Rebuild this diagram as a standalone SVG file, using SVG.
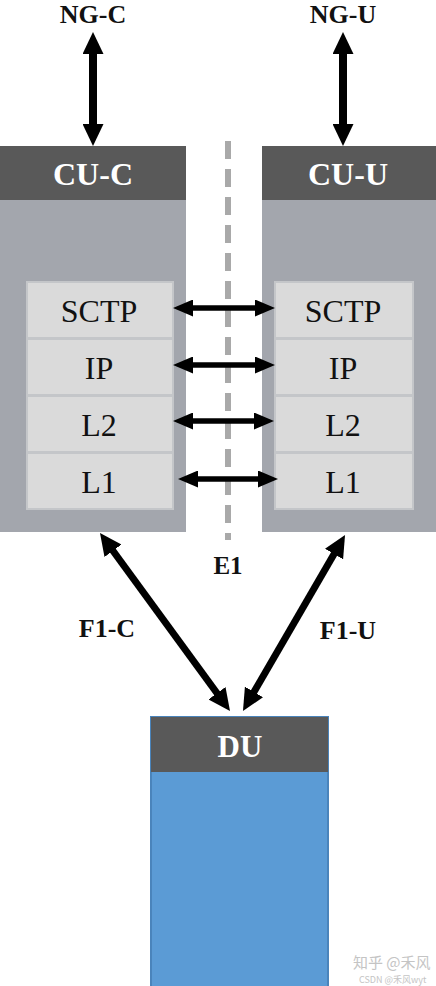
<svg xmlns="http://www.w3.org/2000/svg" width="436" height="986" viewBox="0 0 436 986">
<style>
.hdr{fill:#595959}
.body{fill:#a3a6ad}
.layer{fill:#dadada;stroke:#c4c6c9;stroke-width:2}
.t{font-family:"Liberation Serif","Times New Roman",serif;text-anchor:middle}
.b{font-weight:bold}
.w{fill:#ffffff}
.k{fill:#111111}
.arrow{stroke:#000;fill:none}
.big{stroke-width:8;marker-start:url(#hb);marker-end:url(#hb)}
.diag{stroke-width:7;marker-start:url(#hb);marker-end:url(#hb)}
.small{stroke-width:5.5;marker-start:url(#hs);marker-end:url(#hs)}
.wm{font-family:"Noto Sans CJK SC","Liberation Sans",sans-serif;fill:#c4c4c4}
</style>
<defs>
<marker id="hb" viewBox="0 0 22 21" markerWidth="22" markerHeight="21" refX="1" refY="10.5" markerUnits="userSpaceOnUse" orient="auto-start-reverse"><path d="M0,0 L22,10.5 L0,21 z" fill="#000"/></marker>
<marker id="hs" viewBox="0 0 20 17" markerWidth="20" markerHeight="17" refX="1" refY="8.5" markerUnits="userSpaceOnUse" orient="auto-start-reverse"><path d="M0,0 L20,8.5 L0,17 z" fill="#000"/></marker>
</defs>
<rect width="436" height="986" fill="#ffffff"/>
<g id="e1-line"><line x1="228" y1="141" x2="228" y2="540" stroke="#a9a9a9" stroke-width="6" stroke-dasharray="18 10"/></g>
<g id="ng-c"><text class="t b k" x="93" y="23" font-size="26">NG-C</text></g>
<g id="ng-u"><text class="t b k" x="343" y="23" font-size="26">NG-U</text></g>
<g id="cu-c">
<rect class="body" x="0" y="200" width="186" height="332"/>
<rect class="hdr" x="0" y="146" width="186" height="54"/>
<text class="t b w" x="93" y="185" font-size="32">CU-C</text>
<g id="cu-c-sctp"><rect class="layer" x="27" y="282" width="146" height="56"/><text class="t k" x="99" y="322" font-size="32">SCTP</text></g>
<g id="cu-c-ip"><rect class="layer" x="27" y="339" width="146" height="56"/><text class="t k" x="99" y="379" font-size="32">IP</text></g>
<g id="cu-c-l2"><rect class="layer" x="27" y="396" width="146" height="56"/><text class="t k" x="99" y="436" font-size="32">L2</text></g>
<g id="cu-c-l1"><rect class="layer" x="27" y="453" width="146" height="56"/><text class="t k" x="99" y="493" font-size="32">L1</text></g>
</g>
<g id="cu-u">
<rect class="body" x="262" y="200" width="174" height="332"/>
<rect class="hdr" x="262" y="146" width="174" height="54"/>
<text class="t b w" x="348" y="185" font-size="32">CU-U</text>
<g id="cu-u-sctp"><rect class="layer" x="275" y="282" width="138" height="56"/><text class="t k" x="343" y="322" font-size="32">SCTP</text></g>
<g id="cu-u-ip"><rect class="layer" x="275" y="339" width="138" height="56"/><text class="t k" x="343" y="379" font-size="32">IP</text></g>
<g id="cu-u-l2"><rect class="layer" x="275" y="396" width="138" height="56"/><text class="t k" x="343" y="436" font-size="32">L2</text></g>
<g id="cu-u-l1"><rect class="layer" x="275" y="453" width="138" height="56"/><text class="t k" x="343" y="493" font-size="32">L1</text></g>
</g>
<g id="du">
<rect x="151" y="717" width="177" height="271" fill="#5b9bd5" stroke="#4a84bb" stroke-width="2"/>
<rect class="hdr" x="151" y="717" width="177" height="55"/>
<text class="t b w" x="240" y="757" font-size="31">DU</text>
</g>
<g id="labels">
<text class="t b k" x="228" y="574" font-size="25">E1</text>
<text class="t b k" x="107" y="637" font-size="26">F1-C</text>
<text class="t b k" x="348" y="639" font-size="26">F1-U</text>
</g>
<g id="connectors">
<line class="arrow big" x1="93" y1="53" x2="93" y2="125"/>
<line class="arrow big" x1="343" y1="53" x2="343" y2="125"/>
<line class="arrow small" x1="192" y1="308" x2="256" y2="308"/>
<line class="arrow small" x1="192" y1="365" x2="256" y2="365"/>
<line class="arrow small" x1="192" y1="421" x2="255" y2="421"/>
<line class="arrow small" x1="197" y1="479" x2="259" y2="479"/>
<line class="arrow diag" x1="112.4" y1="550" x2="217.6" y2="694"/>
<line class="arrow diag" x1="334.5" y1="553.2" x2="253.5" y2="692.8"/>
</g>
<g id="watermark">
<text class="wm" x="353" y="968" font-size="15">知乎 @禾风</text>
<text class="wm" x="359" y="983" font-size="9">CSDN @禾风wyt</text>
</g>
</svg>
